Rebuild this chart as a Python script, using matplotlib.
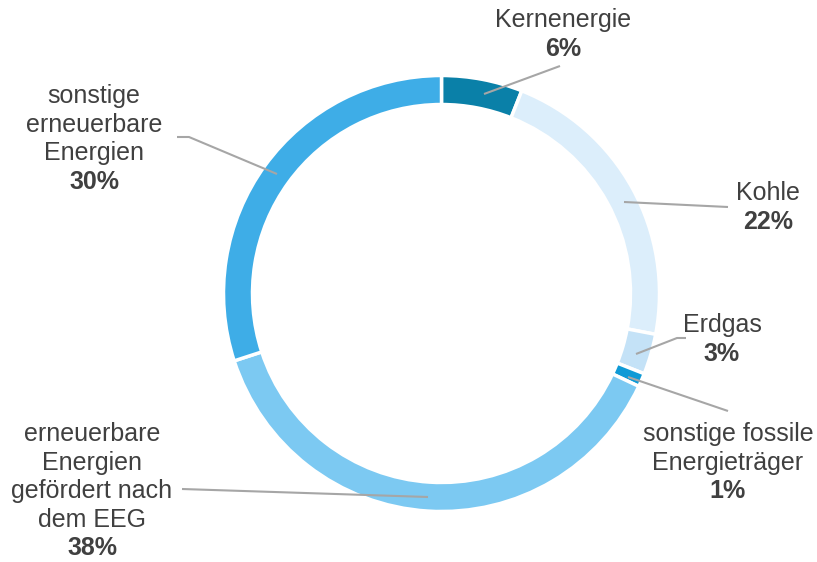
import numpy as np
import matplotlib
matplotlib.use("Agg")
import matplotlib.pyplot as plt

# Anteile am Strommix (Prozent), im Uhrzeigersinn ab 12 Uhr
categories = [
    "Kernenergie",
    "Kohle",
    "Erdgas",
    "sonstige fossile\nEnergieträger",
    "erneuerbare\nEnergien\ngefördert nach\ndem EEG",
    "sonstige\nerneuerbare\nEnergien",
]
shares = [6, 22, 3, 1, 38, 30]
colors = ["#0a80a8", "#dceefb", "#c4e2f7", "#0f9ad6", "#7cc9f2", "#3eade7"]

W, H = 817, 562
TEXT = "#404040"
LINE = "#a6a6a6"


def px(x, y):
    # pixel coords (origin top-left) -> data coords
    return x, H - y


fig = plt.figure(figsize=(W / 100, H / 100), dpi=100)
ax = fig.add_axes([0, 0, 1, 1])
ax.set_xlim(0, W)
ax.set_ylim(0, H)
ax.set_aspect("equal")
ax.axis("off")

cx, cy = px(441.5, 293.5)
R = 218
ax.pie(shares, colors=colors, startangle=90, counterclock=False,
       center=(cx, cy), radius=R,
       wedgeprops=dict(width=29, edgecolor="white", linewidth=2.5))
ax.set_xlim(0, W)
ax.set_ylim(0, H)

# label layout: text centre x, first line y, leader polyline (pixels)
layout = [
    (563, 20, [(484, 94), (560, 66)]),
    (768, 193, [(624, 202), (728, 207)]),
    (722, 325, [(636, 354), (677, 338), (686, 338)]),
    (728, 434, [(628, 377), (728, 411)]),
    (92, 434, [(428, 497), (182, 489)]),
    (94, 96, [(277, 174), (189, 137), (177, 137)]),
]

step = 28.6
for name, val, (tx, ty, pts) in zip(categories, shares, layout):
    lines = name.split("\n")
    for i, ln in enumerate(lines):
        x, y = px(tx, ty + i * step)
        ax.text(x, y, ln, ha="center", va="center", fontsize=18,
                family="Liberation Sans", color=TEXT)
    x, y = px(tx, ty + len(lines) * step)
    ax.text(x, y, f"{val}%", ha="center", va="center", fontsize=18,
            family="Liberation Sans", fontweight="bold", color=TEXT)
    xs, ys = zip(*[px(a, b) for a, b in pts])
    ax.plot(xs, ys, color=LINE, lw=1.5, solid_capstyle="butt")

fig.savefig("out.png", dpi=100)
